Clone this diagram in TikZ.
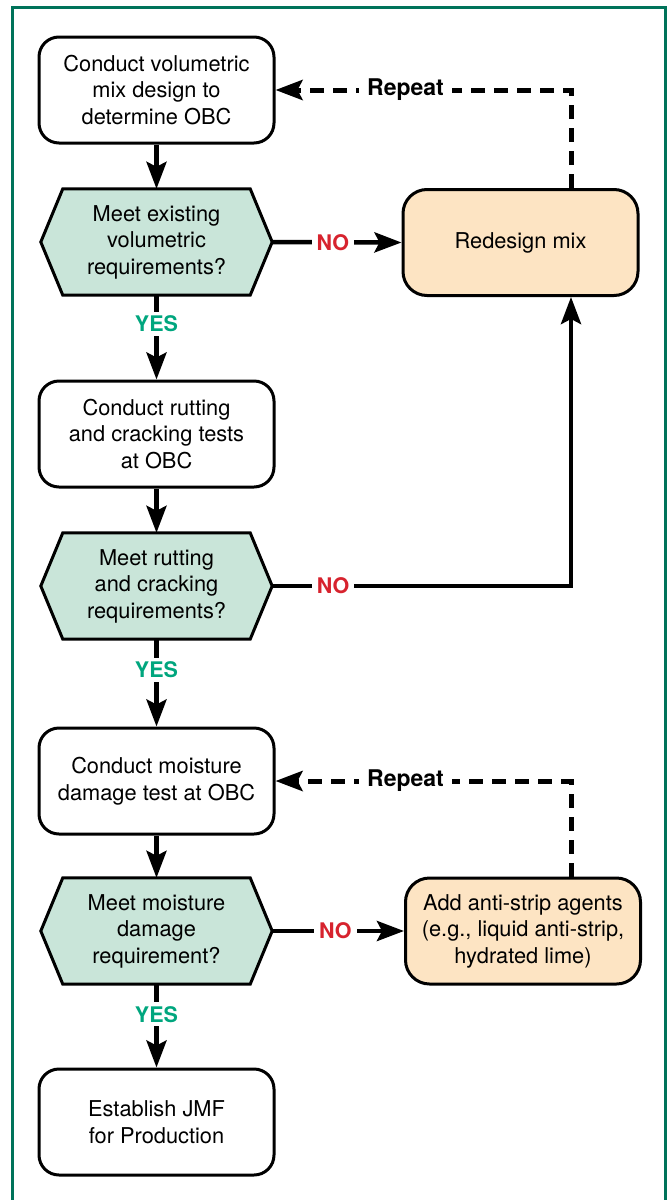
\documentclass[tikz,border=0pt]{standalone}
\usepackage{fontspec}
\setmainfont{TeX Gyre Heros}
\usetikzlibrary{arrows.meta,backgrounds,calc}
\definecolor{framegreen}{HTML}{00735A}
\definecolor{hexfill}{HTML}{C9E5D9}
\definecolor{peach}{HTML}{FDE4C3}
\definecolor{yesgreen}{HTML}{00A67E}
\definecolor{nored}{HTML}{D7232E}

\begin{document}
\begin{tikzpicture}[x=1pt,y=-1pt,
  font=\fontsize{21.8}{26.5}\selectfont,
  stepbox/.style={draw=black, line width=3pt, rounded corners=20pt, fill=white,
    minimum width=235pt, minimum height=106pt, align=center, inner sep=0pt},
  fixbox/.style={stepbox, fill=peach, rounded corners=24pt},
  hexnode/.style={minimum width=231pt, minimum height=106pt, align=center, inner sep=0pt},
  hexline/.style={draw=black, line width=3pt, fill=hexfill, line join=miter},
  flow/.style={line width=4.5pt, line join=miter,
    -{Stealth[length=27pt,width=20pt,inset=5pt]}},
  loop/.style={flow, line width=5pt, dash pattern=on 14pt off 9pt},
  yes/.style={fill=white, text=yesgreen, font=\fontsize{21.5}{26}\selectfont\bfseries, inner sep=4pt},
  no/.style={fill=white, text=nored, font=\fontsize{21.5}{26}\selectfont\bfseries, inner sep=5pt},
  rep/.style={fill=white, text=black, font=\fontsize{23}{26}\selectfont\bfseries, inner sep=8pt}
]
\useasboundingbox (0,0) rectangle (668,1200);

% outer frame, open at the bottom
\draw[framegreen, line width=3pt] (12,1200) -- (12,7) -- (665,7) -- (665,1200);

% process steps
\node[stepbox] (b1) at (156.5,90) {Conduct volumetric\\mix design to\\determine OBC};
\node[hexnode] (h1) at (156.5,242) {Meet existing\\volumetric\\requirements?};
\node[fixbox]  (rd) at (520.5,242.5) {Redesign mix};
\node[stepbox] (b2) at (156.5,434) {Conduct rutting\\and cracking tests\\at OBC};
\node[hexnode] (h2) at (156.5,586) {Meet rutting\\and cracking\\requirements?};
\node[stepbox] (b3) at (156.5,781) {Conduct moisture\\damage test at OBC};
\node[hexnode] (h3) at (156.5,931) {Meet moisture\\damage\\requirement?};
\node[fixbox]  (as) at (523,931) {Add anti-strip agents\\(e.g., liquid anti-strip,\\hydrated lime)};
\node[stepbox] (b4) at (156.5,1122) {Establish JMF\\for Production};

% hexagonal decision shapes behind their texts
\begin{scope}[on background layer]
  \foreach \h in {h1,h2,h3}
    \draw[hexline] (\h.west) -- ([xshift=22pt]\h.north west) -- ([xshift=-22pt]\h.north east)
      -- (\h.east) -- ([xshift=-22pt]\h.south east) -- ([xshift=22pt]\h.south west) -- cycle;
\end{scope}

% column of the return lines
\coordinate (rx) at (571,0);

% main flow
\draw[flow] (b1.south) -- (h1.north);
\draw[flow] (h1.south) -- node[yes,pos=0.34]{YES} (b2.north);
\draw[flow] (b2.south) -- (h2.north);
\draw[flow] (h2.south) -- node[yes,pos=0.35]{YES} (b3.north);
\draw[flow] (b3.south) -- (h3.north);
\draw[flow] (h3.south) -- node[yes,pos=0.36]{YES} (b4.north);

% failure branches
\draw[flow] (h1.east) -- node[no,pos=0.47]{NO} (rd.west);
\draw[flow] (h2.east) -| node[no,pos=0.102]{NO} (rd.south -| rx);
\draw[flow] (h3.east) -- node[no,pos=0.48]{NO} (as.west);

% repeat loops
\draw[loop] (rd.north -| rx) |- node[rep,pos=0.78]{Repeat} (b1.east);
\draw[loop] (as.north -| rx) |- node[rep,pos=0.78]{Repeat} (b3.east);
\end{tikzpicture}
\end{document}
